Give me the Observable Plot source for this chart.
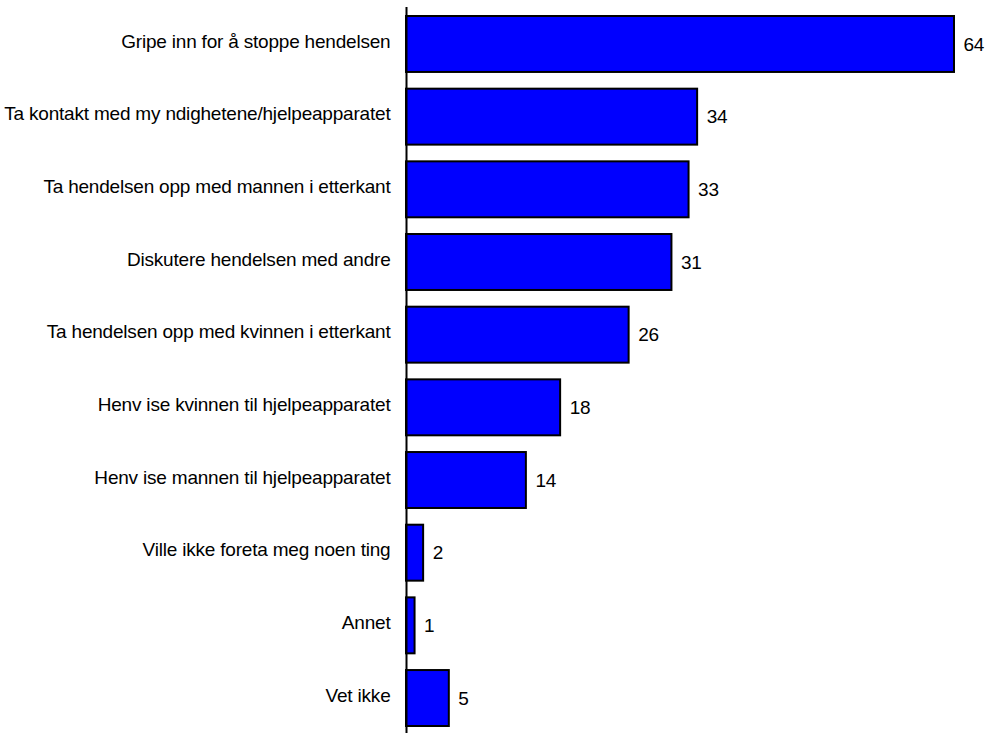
<!DOCTYPE html>
<html>
<head>
<meta charset="utf-8">
<script src="https://cdn.jsdelivr.net/npm/d3@7"></script>
<script src="https://cdn.jsdelivr.net/npm/@observablehq/plot@0.6"></script>
<style>
  html, body { margin: 0; padding: 0; background: #fff; }
  #chart svg { display: block; }
  #chart svg text { letter-spacing: -0.2px; }
</style>
</head>
<body>
<div id="chart"></div>
<script>
const categories = [
  "Gripe inn for å stoppe hendelsen",
  "Ta kontakt med my ndighetene/hjelpeapparatet",
  "Ta hendelsen opp med mannen i etterkant",
  "Diskutere hendelsen med andre",
  "Ta hendelsen opp med kvinnen i etterkant",
  "Henv ise kvinnen til hjelpeapparatet",
  "Henv ise mannen til hjelpeapparatet",
  "Ville ikke foreta meg noen ting",
  "Annet",
  "Vet ikke"
];
const values = [64, 34, 33, 31, 26, 18, 14, 2, 1, 5];

const data = categories.map((c, i) => ({category: c, value: values[i]}));

const font = "'Liberation Sans', Arial, Helvetica, sans-serif";

const chart = Plot.plot({
  width: 988,
  height: 733,
  marginLeft: 406,
  marginRight: 34,
  marginTop: 7,
  marginBottom: 0,
  style: {fontFamily: font, fontSize: "19px", color: "#000", background: "#fff"},
  x: {domain: [0, 64], axis: null},
  y: {domain: categories, range: [16, 726], paddingInner: 0.23, paddingOuter: 0, round: false, label: null},
  marks: [
    Plot.barX(data, {x: "value", y: "category", fill: "#0000ff", stroke: "#000", strokeWidth: 2}),
    Plot.ruleX([0], {stroke: "#000", strokeWidth: 2}),
    Plot.text(data, {x: "value", y: "category", text: d => String(d.value), dx: 9, textAnchor: "start", fontSize: 19, fill: "#000"}),
    Plot.axisY({tickSize: 0, tickPadding: 16, fontSize: 19, dy: -3, label: null})
  ]
});
document.getElementById("chart").appendChild(chart);
</script>
</body>
</html>
